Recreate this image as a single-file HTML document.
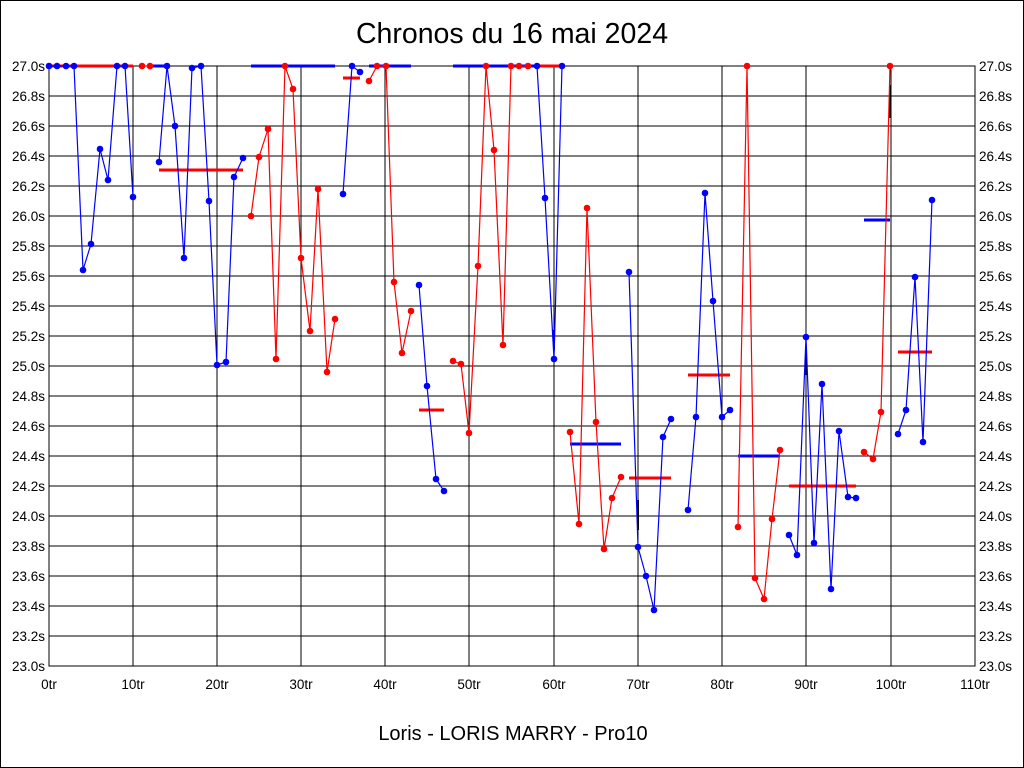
<!DOCTYPE html>
<html><head><meta charset="utf-8"><style>
html,body{margin:0;padding:0;background:#fff;}
svg{display:block;}
text{font-family:"Liberation Sans",sans-serif;fill:#000;}
.yl{font-size:13.5px;}
.xl{font-size:13.5px;}
</style></head><body>
<svg width="1024" height="768" viewBox="0 0 1024 768" xmlns="http://www.w3.org/2000/svg">
<rect x="0.5" y="0.5" width="1023" height="767" fill="#fff" stroke="#000"/>
<text x="512" y="43" font-size="28.5" text-anchor="middle">Chronos du 16 mai 2024</text>
<text x="513" y="740" font-size="20" text-anchor="middle">Loris - LORIS MARRY - Pro10</text>
<g stroke="#000" stroke-width="1" shape-rendering="crispEdges">
<rect x="49" y="66" width="926" height="600" fill="none"/>
<path d="M49 96H975M49 126H975M49 156H975M49 186H975M49 216H975M49 246H975M49 276H975M49 306H975M49 336H975M49 366H975M49 396H975M49 426H975M49 456H975M49 486H975M49 516H975M49 546H975M49 576H975M49 606H975M49 636H975"/>
<path d="M133 66V666M217 66V666M301 66V666M385 66V666M469 66V666M554 66V666M638 66V666M722 66V666M806 66V666M891 66V666"/>
</g>
<g class="yl" text-anchor="end">
<text x="45" y="71">27.0s</text><text x="45" y="101">26.8s</text><text x="45" y="131">26.6s</text><text x="45" y="161">26.4s</text><text x="45" y="191">26.2s</text><text x="45" y="221">26.0s</text><text x="45" y="251">25.8s</text><text x="45" y="281">25.6s</text><text x="45" y="311">25.4s</text><text x="45" y="341">25.2s</text><text x="45" y="371">25.0s</text><text x="45" y="401">24.8s</text><text x="45" y="431">24.6s</text><text x="45" y="461">24.4s</text><text x="45" y="491">24.2s</text><text x="45" y="521">24.0s</text><text x="45" y="551">23.8s</text><text x="45" y="581">23.6s</text><text x="45" y="611">23.4s</text><text x="45" y="641">23.2s</text><text x="45" y="671">23.0s</text>
</g>
<g class="yl" text-anchor="start">
<text x="979" y="71">27.0s</text><text x="979" y="101">26.8s</text><text x="979" y="131">26.6s</text><text x="979" y="161">26.4s</text><text x="979" y="191">26.2s</text><text x="979" y="221">26.0s</text><text x="979" y="251">25.8s</text><text x="979" y="281">25.6s</text><text x="979" y="311">25.4s</text><text x="979" y="341">25.2s</text><text x="979" y="371">25.0s</text><text x="979" y="401">24.8s</text><text x="979" y="431">24.6s</text><text x="979" y="461">24.4s</text><text x="979" y="491">24.2s</text><text x="979" y="521">24.0s</text><text x="979" y="551">23.8s</text><text x="979" y="581">23.6s</text><text x="979" y="611">23.4s</text><text x="979" y="641">23.2s</text><text x="979" y="671">23.0s</text>
</g>
<g class="xl" text-anchor="middle">
<text x="49" y="689">0tr</text><text x="133" y="689">10tr</text><text x="217" y="689">20tr</text><text x="301" y="689">30tr</text><text x="385" y="689">40tr</text><text x="469" y="689">50tr</text><text x="554" y="689">60tr</text><text x="638" y="689">70tr</text><text x="722" y="689">80tr</text><text x="806" y="689">90tr</text><text x="891" y="689">100tr</text><text x="975" y="689">110tr</text>
</g>
<g stroke-width="3">
<path stroke="#f00" d="M49 66H133M159 170H243M343 78H360M419 410H444M537 66H562M629 478H671M688 375H730M789 486H856M898 352H932"/>
<path stroke="#00f" d="M151 66H167M251 66H335M369 66H411M453 66H537M570 444H621M738 456H780M864 220H890"/>
</g>
<g stroke="#000" stroke-width="2">
<path d="M890 85V118M806 350V375M638 500V530M554 330V350"/>
</g>
<g fill="none" stroke-width="1.2">
<polyline stroke="#00f" points="49,66 57,66 66,66 74,66 83,270 91,244 100,149 108,180 117,66 125,66 133,197"/>
<polyline stroke="#f00" points="142,66 150,66"/>
<polyline stroke="#00f" points="159,162 167,66 175,126 184,258 192,68 201,66 209,201 217,365 226,362 234,177 243,158"/>
<polyline stroke="#f00" points="251,216 259,157 268,129 276,359 285,66 293,89 301,258 310,331 318,189 327,372 335,319"/>
<polyline stroke="#00f" points="343,194 352,66 360,72"/>
<polyline stroke="#f00" points="369,81 377,66 386,66 394,282 402,353 411,311"/>
<polyline stroke="#00f" points="419,285 427,386 436,479 444,491"/>
<polyline stroke="#f00" points="453,361 461,364 469,433 478,266 486,66 494,150 503,345 511,66 519,66 528,66"/>
<polyline stroke="#00f" points="537,66 545,198 554,359 562,66"/>
<polyline stroke="#f00" points="570,432 579,524 587,208 596,422 604,549 612,498 621,477"/>
<polyline stroke="#00f" points="629,272 638,547 646,576 654,610 663,437 671,419"/>
<polyline stroke="#00f" points="688,510 696,417 705,193 713,301 722,417 730,410"/>
<polyline stroke="#f00" points="738,527 747,66 755,578 764,599 772,519 780,450"/>
<polyline stroke="#00f" points="789,535 797,555 806,337 814,543 822,384 831,589 839,431 848,497 856,498"/>
<polyline stroke="#f00" points="864,452 873,459 881,412 890,66"/>
<polyline stroke="#00f" points="898,434 906,410 915,277 923,442 932,200"/>
</g>
<g fill="#00f">
<circle cx="49" cy="66" r="3.3"/><circle cx="57" cy="66" r="3.3"/><circle cx="66" cy="66" r="3.3"/><circle cx="74" cy="66" r="3.3"/><circle cx="83" cy="270" r="3.3"/><circle cx="91" cy="244" r="3.3"/><circle cx="100" cy="149" r="3.3"/><circle cx="108" cy="180" r="3.3"/><circle cx="117" cy="66" r="3.3"/><circle cx="125" cy="66" r="3.3"/><circle cx="133" cy="197" r="3.3"/>
<circle cx="159" cy="162" r="3.3"/><circle cx="167" cy="66" r="3.3"/><circle cx="175" cy="126" r="3.3"/><circle cx="184" cy="258" r="3.3"/><circle cx="192" cy="68" r="3.3"/><circle cx="201" cy="66" r="3.3"/><circle cx="209" cy="201" r="3.3"/><circle cx="217" cy="365" r="3.3"/><circle cx="226" cy="362" r="3.3"/><circle cx="234" cy="177" r="3.3"/><circle cx="243" cy="158" r="3.3"/>
<circle cx="343" cy="194" r="3.3"/><circle cx="352" cy="66" r="3.3"/><circle cx="360" cy="72" r="3.3"/>
<circle cx="419" cy="285" r="3.3"/><circle cx="427" cy="386" r="3.3"/><circle cx="436" cy="479" r="3.3"/><circle cx="444" cy="491" r="3.3"/>
<circle cx="537" cy="66" r="3.3"/><circle cx="545" cy="198" r="3.3"/><circle cx="554" cy="359" r="3.3"/><circle cx="562" cy="66" r="3.3"/>
<circle cx="629" cy="272" r="3.3"/><circle cx="638" cy="547" r="3.3"/><circle cx="646" cy="576" r="3.3"/><circle cx="654" cy="610" r="3.3"/><circle cx="663" cy="437" r="3.3"/><circle cx="671" cy="419" r="3.3"/>
<circle cx="688" cy="510" r="3.3"/><circle cx="696" cy="417" r="3.3"/><circle cx="705" cy="193" r="3.3"/><circle cx="713" cy="301" r="3.3"/><circle cx="722" cy="417" r="3.3"/><circle cx="730" cy="410" r="3.3"/>
<circle cx="789" cy="535" r="3.3"/><circle cx="797" cy="555" r="3.3"/><circle cx="806" cy="337" r="3.3"/><circle cx="814" cy="543" r="3.3"/><circle cx="822" cy="384" r="3.3"/><circle cx="831" cy="589" r="3.3"/><circle cx="839" cy="431" r="3.3"/><circle cx="848" cy="497" r="3.3"/><circle cx="856" cy="498" r="3.3"/>
<circle cx="898" cy="434" r="3.3"/><circle cx="906" cy="410" r="3.3"/><circle cx="915" cy="277" r="3.3"/><circle cx="923" cy="442" r="3.3"/><circle cx="932" cy="200" r="3.3"/>
</g>
<g fill="#f00">
<circle cx="142" cy="66" r="3.3"/><circle cx="150" cy="66" r="3.3"/>
<circle cx="251" cy="216" r="3.3"/><circle cx="259" cy="157" r="3.3"/><circle cx="268" cy="129" r="3.3"/><circle cx="276" cy="359" r="3.3"/><circle cx="285" cy="66" r="3.3"/><circle cx="293" cy="89" r="3.3"/><circle cx="301" cy="258" r="3.3"/><circle cx="310" cy="331" r="3.3"/><circle cx="318" cy="189" r="3.3"/><circle cx="327" cy="372" r="3.3"/><circle cx="335" cy="319" r="3.3"/>
<circle cx="369" cy="81" r="3.3"/><circle cx="377" cy="66" r="3.3"/><circle cx="386" cy="66" r="3.3"/><circle cx="394" cy="282" r="3.3"/><circle cx="402" cy="353" r="3.3"/><circle cx="411" cy="311" r="3.3"/>
<circle cx="453" cy="361" r="3.3"/><circle cx="461" cy="364" r="3.3"/><circle cx="469" cy="433" r="3.3"/><circle cx="478" cy="266" r="3.3"/><circle cx="486" cy="66" r="3.3"/><circle cx="494" cy="150" r="3.3"/><circle cx="503" cy="345" r="3.3"/><circle cx="511" cy="66" r="3.3"/><circle cx="519" cy="66" r="3.3"/><circle cx="528" cy="66" r="3.3"/>
<circle cx="570" cy="432" r="3.3"/><circle cx="579" cy="524" r="3.3"/><circle cx="587" cy="208" r="3.3"/><circle cx="596" cy="422" r="3.3"/><circle cx="604" cy="549" r="3.3"/><circle cx="612" cy="498" r="3.3"/><circle cx="621" cy="477" r="3.3"/>
<circle cx="738" cy="527" r="3.3"/><circle cx="747" cy="66" r="3.3"/><circle cx="755" cy="578" r="3.3"/><circle cx="764" cy="599" r="3.3"/><circle cx="772" cy="519" r="3.3"/><circle cx="780" cy="450" r="3.3"/>
<circle cx="864" cy="452" r="3.3"/><circle cx="873" cy="459" r="3.3"/><circle cx="881" cy="412" r="3.3"/><circle cx="890" cy="66" r="3.3"/>
</g>
</svg>
</body></html>
